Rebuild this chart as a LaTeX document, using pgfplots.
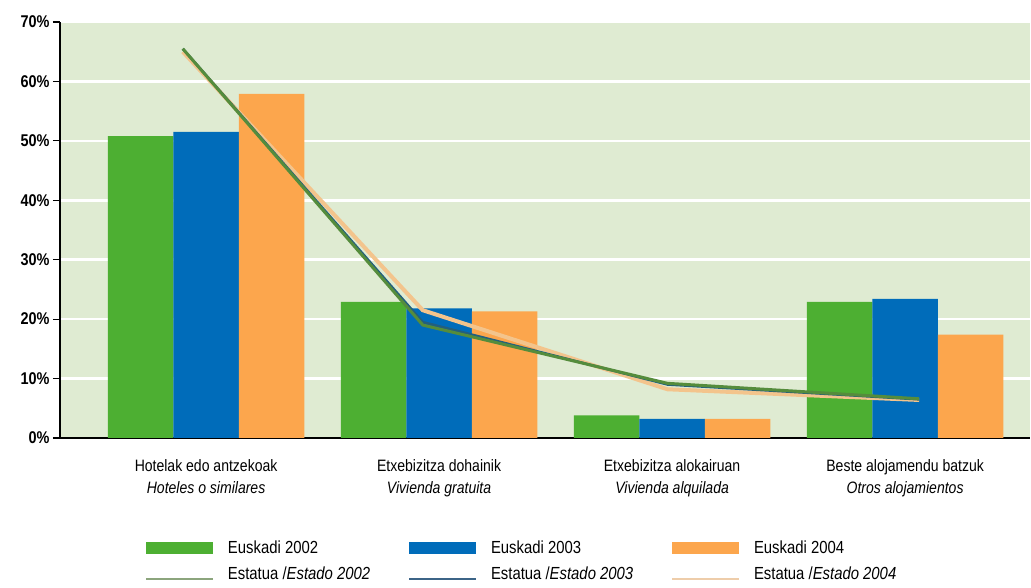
\documentclass[border=0pt]{standalone}
\usepackage{fontspec}
\setmainfont{Liberation Sans}[FakeStretch=0.85]
\usepackage{pgfplots}
\pgfplotsset{compat=1.18}
\definecolor{cgreen}{RGB}{77,175,50}
\definecolor{cblue}{RGB}{0,108,186}
\definecolor{corange}{RGB}{252,166,77}
\definecolor{cbg}{RGB}{223,235,210}
\definecolor{lgreen}{RGB}{85,140,60}
\definecolor{lblue}{RGB}{35,95,125}
\definecolor{lorange}{RGB}{243,196,140}
\definecolor{leggreen}{RGB}{140,165,125}
\definecolor{legblue}{RGB}{60,100,135}
\definecolor{legorange}{RGB}{238,205,170}
\pgfplotsset{
  barleg/.style={legend image code/.code={\fill[##1,draw=none] (0pt,-6pt) rectangle (67pt,6pt);}},
  lineleg/.style={legend image code/.code={\draw[##1] (0pt,-5pt) -- (67pt,-5pt);}},
}
\begin{document}
\begin{tikzpicture}
\path[use as bounding box] (-60pt,-150pt) rectangle (971pt,438pt);
\begin{axis}[
  scale only axis, width=970pt, height=416pt,
  xmin=-0.627, xmax=3.536, ymin=0, ymax=70,
  axis background/.style={fill=cbg},
  axis x line*=bottom, axis y line*=left,
  axis line style={black, line width=1.6pt},
  ytick={0,10,...,70},
  yticklabels={0\%,10\%,20\%,30\%,40\%,50\%,60\%,70\%},
  yticklabel style={font=\bfseries\fontsize{17}{17}\selectfont},
  ymajorgrids, major grid style={white, line width=2.5pt},
  tick align=outside, major tick length=7pt,
  tick style={black, line width=1.2pt},
  xtick={0,1,2,3},
  xtick style={draw=none},
  xticklabels={{Hotelak edo antzekoak\\\textit{Hoteles o similares}},
               {Etxebizitza dohainik\\\textit{Vivienda gratuita}},
               {Etxebizitza alokairuan\\\textit{Vivienda alquilada}},
               {Beste alojamendu batzuk\\\textit{Otros alojamientos}}},
  xticklabel style={align=center, font=\fontsize{16.5}{22}\selectfont, yshift=-11pt},
  extra x ticks={0.5,1.5,2.5},
  extra x tick labels={},
  extra x tick style={major tick length=14pt, tick style={black, line width=1.6pt}, grid=none},
  legend columns=3,
  legend style={draw=none, fill=none, at={(0.0876,-0.241)}, anchor=north west,
    font=\fontsize{17.5}{17.5}\selectfont, inner sep=0pt,
    /tikz/every odd column/.append style={column sep=12pt},
    /tikz/every even column/.append style={column sep=36pt},
    row sep=8pt},
  legend cell align=left,
]
\addplot[ybar, bar width=0.281, bar shift=-0.281, fill=cgreen, draw=none, barleg]
  coordinates {(0,50.8) (1,22.9) (2,3.8) (3,22.9)};
\addplot[ybar, bar width=0.281, bar shift=0, fill=cblue, draw=none, barleg]
  coordinates {(0,51.5) (1,21.8) (2,3.2) (3,23.4)};
\addplot[ybar, bar width=0.281, bar shift=0.281, fill=corange, draw=none, barleg]
  coordinates {(0,57.9) (1,21.3) (2,3.2) (3,17.4)};
\addlegendimage{lineleg, leggreen, line width=1.8pt}
\addlegendimage{lineleg, legblue, line width=1.8pt}
\addlegendimage{lineleg, legorange, line width=1.8pt}
\addplot[forget plot, lorange, line width=4pt]
  coordinates {(-0.10,65.0) (0.93,21.5) (1.98,8.2) (3.06,6.4)};
\addplot[forget plot, lblue, line width=2.5pt]
  coordinates {(-0.10,65.5) (0.93,19.5) (1.98,9.0) (3.06,6.5)};
\addplot[forget plot, lgreen, line width=3pt]
  coordinates {(-0.10,65.5) (0.93,19.0) (1.98,9.2) (3.06,6.6)};
\legend{Euskadi 2002, Euskadi 2003, Euskadi 2004,
  Estatua /\textit{Estado 2002}, Estatua /\textit{Estado 2003}, Estatua /\textit{Estado 2004}}
\end{axis}
\end{tikzpicture}
\end{document}
